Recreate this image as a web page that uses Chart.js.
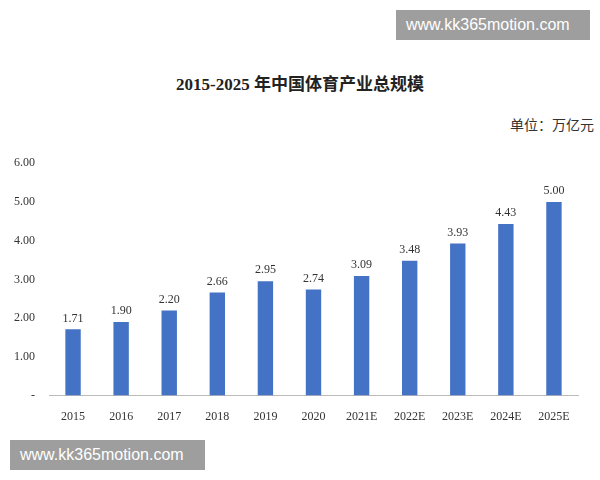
<!DOCTYPE html>
<html><head><meta charset="utf-8">
<script src="https://cdn.jsdelivr.net/npm/chart.js@4"></script>
<style>
body{margin:0;width:600px;height:480px;background:#fff;position:relative;font-family:"Liberation Serif",serif;overflow:hidden}
#title{position:absolute;top:70px;left:0;width:600px;text-align:center;font-weight:bold;font-size:17px;color:#222;font-family:"Liberation Serif","Noto Sans CJK SC",serif}
#unit{position:absolute;top:114px;right:6px;font-size:14px;color:#333;font-family:"Noto Sans CJK SC",sans-serif}
.wm{position:absolute;background:#9e9e9e;color:#fff;font-family:"Liberation Sans",sans-serif;font-size:16px;padding:0 10px;height:30px;line-height:30px}
#c{position:absolute;left:0;top:142px}
</style></head><body>
<div id="title">2015-2025 年中国体育产业总规模</div>
<div id="unit">单位：万亿元</div>
<canvas id="c" width="600" height="288"></canvas>
<div class="wm" style="top:10px;left:396px;width:174px">www.kk365motion.com</div>
<div class="wm" style="top:440px;left:10px;width:175px">www.kk365motion.com</div>
<script>
const categories=["2015","2016","2017","2018","2019","2020","2021E","2022E","2023E","2024E","2025E"];
const values=[1.71,1.90,2.20,2.66,2.95,2.74,3.09,3.48,3.93,4.43,5.00];
const yTicks=[0,1,2,3,4,5,6];
const labelPlugin={id:'lbl',afterDatasetsDraw(ch){const ctx=ch.ctx;const m=ch.getDatasetMeta(0);ctx.save();ctx.font='12px "Liberation Serif"';ctx.fillStyle='#333';ctx.textAlign='center';ctx.textBaseline='bottom';m.data.forEach((b,i)=>ctx.fillText(values[i].toFixed(2),b.x,b.y-5));ctx.restore();}};
new Chart(document.getElementById('c'),{type:'bar',data:{labels:categories,datasets:[{data:values,backgroundColor:'#4472C4',barPercentage:0.32,categoryPercentage:1}]},
options:{responsive:false,animation:false,layout:{padding:{left:0,right:22,top:7,bottom:0}},plugins:{legend:{display:false},tooltip:{enabled:false}},
scales:{y:{min:0,max:6,afterBuildTicks(a){a.ticks=yTicks.map(v=>({value:v}));},grid:{display:false,drawTicks:false},border:{display:false},ticks:{padding:14,color:'#333',font:{family:'Liberation Serif',size:12},callback:v=>v===0?'-':v.toFixed(2)}},
x:{grid:{display:false},border:{color:'#bbb'},ticks:{color:'#333',padding:6,font:{family:'Liberation Serif',size:12}}}}},plugins:[labelPlugin]});
</script></body></html>
